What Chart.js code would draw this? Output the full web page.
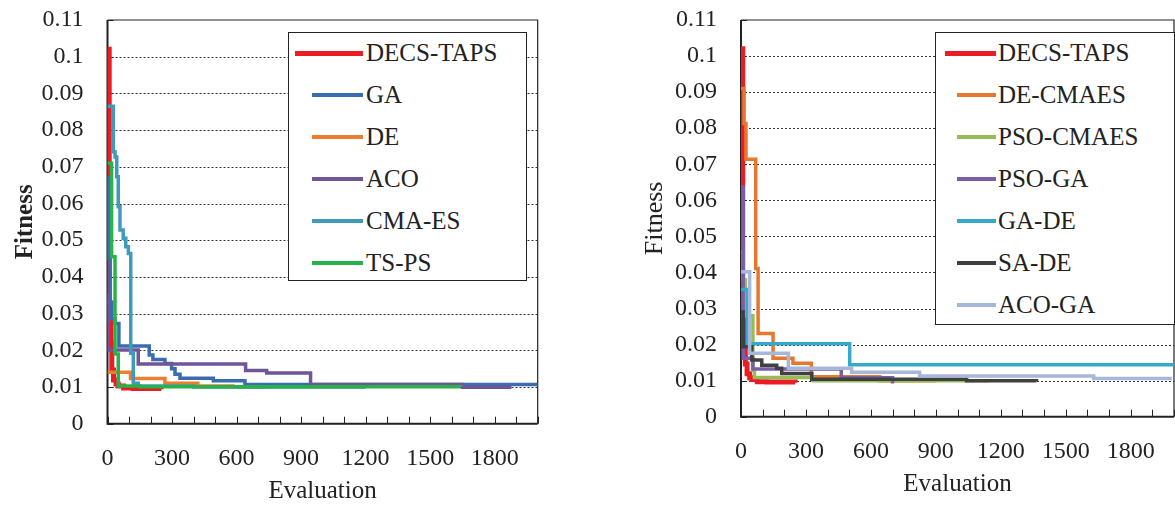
<!DOCTYPE html>
<html>
<head>
<meta charset="utf-8">
<script src="https://cdn.jsdelivr.net/npm/chart.js@4.4.1/dist/chart.umd.min.js"></script>
<style>
  body { margin: 0; background: #fff; }
  #wrap { position: relative; width: 1175px; height: 506px; overflow: hidden; font-family: 'Liberation Serif', 'Times New Roman', serif; color: #222; }
  canvas { position: absolute; top: 0; }
  .legend { position: absolute; border: 1.5px solid #222; background: #fff; box-sizing: border-box; }
  .legend .key { position: absolute; }
  .legend .name { position: absolute; font-size: 25px; line-height: 28px; white-space: nowrap; }
</style>
</head>
<body>
<div id="wrap">
  <canvas id="leftChart" width="590" height="506" style="left:0"></canvas>
  <canvas id="rightChart" width="585" height="506" style="left:590px"></canvas>
  <div id="leftLegend" class="legend" style="left:288px; top:32px; width:239px; height:249px"></div>
  <div id="rightLegend" class="legend" style="left:935px; top:32px; width:240px; height:293px"></div>
</div>
<script>
// Best fitness so far, as [evaluation, fitness] pairs: the fitness drops to the value at that evaluation
const decsTaps = [[0, 0.102], [8, 0.033], [12, 0.028], [16, 0.022], [20, 0.0146], [28, 0.0119], [40, 0.0108], [50, 0.0103], [75, 0.0097], [120, 0.0096], [250, 0.0094]];

// left panel: single algorithms
const gaRun = [[0, 0.067], [5, 0.045], [12, 0.033], [20, 0.0285], [35, 0.0273], [53, 0.0212], [194, 0.0187], [211, 0.0175], [267, 0.0164], [298, 0.015], [314, 0.0135], [337, 0.0124], [492, 0.0117], [639, 0.0107], [2000, 0.0107]];
const deRun = [[0, 0.014], [107, 0.0123], [267, 0.011], [420, 0.0103], [583, 0.0100], [760, 0.0099]];
const acoRun = [[0, 0.035], [3, 0.0201], [143, 0.0163], [642, 0.0145], [740, 0.0138], [944, 0.0107], [1650, 0.0099], [1878, 0.0099]];
const cmaesRun = [[0, 0.0865], [27, 0.0741], [35, 0.0727], [43, 0.0673], [50, 0.0591], [58, 0.0528], [73, 0.0505], [85, 0.0482], [97, 0.0464], [108, 0.0192], [120, 0.011], [143, 0.0103], [400, 0.0100], [1200, 0.0100]];
const tspsRun = [[0, 0.071], [19, 0.0455], [35, 0.019], [50, 0.0103], [150, 0.0101], [1640, 0.0100]];

// right panel: hybrid algorithms
const deCmaesRun = [[0, 0.091], [14, 0.0813], [23, 0.0714], [68, 0.0411], [79, 0.0231], [148, 0.0162], [240, 0.0148], [325, 0.0111], [641, 0.0100], [900, 0.0099]];
const psoCmaesRun = [[0, 0.0457], [10, 0.038], [20, 0.028], [55, 0.0129], [62, 0.0109], [333, 0.0100], [1143, 0.0098]];
const psoGaRun = [[0, 0.0637], [10, 0.0162], [55, 0.0132], [463, 0.0108], [700, 0.0092]];
const gaDeRun = [[0, 0.0353], [30, 0.0202], [502, 0.0144], [2000, 0.0144]];
const saDeRun = [[0, 0.029], [10, 0.0194], [50, 0.0157], [96, 0.0143], [165, 0.0134], [188, 0.012], [327, 0.0104], [1042, 0.0100], [1365, 0.0098]];
const acoGaRun = [[0, 0.0402], [40, 0.0176], [219, 0.0134], [511, 0.0123], [825, 0.0113], [1629, 0.0106], [1990, 0.0106]];

const leftNames = ['DECS-TAPS', 'GA', 'DE', 'ACO', 'CMA-ES', 'TS-PS'];
const leftColors = ['#ed1c24', '#3b6cb0', '#ed7d31', '#6f5698', '#3f9bb9', '#27b24b'];
const leftRuns = [decsTaps, gaRun, deRun, acoRun, cmaesRun, tspsRun];

const rightNames = ['DECS-TAPS', 'DE-CMAES', 'PSO-CMAES', 'PSO-GA', 'GA-DE', 'SA-DE', 'ACO-GA'];
const rightColors = ['#ed1c24', '#e8772e', '#93bd55', '#7c5ea6', '#33aac9', '#404040', '#a6b7d9'];
const rightRuns = [decsTaps, deCmaesRun, psoCmaesRun, psoGaRun, gaDeRun, saDeRun, acoGaRun];

const evalLabels = [0, 300, 600, 900, 1200, 1500, 1800];
const evalMax = 2000;
const fitnessMax = 0.11;

const FONT = "'Liberation Serif', 'Times New Roman', serif";

// frame, dotted gridlines and inward tick marks
const framePlugin = {
  id: 'frame',
  beforeDatasetsDraw(chart) {
    const { ctx, chartArea: a, scales: { x, y } } = chart;
    ctx.save();
    ctx.strokeStyle = '#333';
    ctx.lineWidth = 1;
    ctx.setLineDash([2, 2]);
    ctx.beginPath();
    y.ticks.forEach(t => {
      if (t.value <= 0 || t.value >= fitnessMax - 1e-9) return;
      const py = Math.round(y.getPixelForValue(t.value)) + 0.5;
      ctx.moveTo(a.left, py);
      ctx.lineTo(a.right, py);
    });
    ctx.stroke();
    ctx.setLineDash([]);
    ctx.strokeStyle = '#222';
    ctx.beginPath();
    x.ticks.forEach(t => {
      const px = Math.round(x.getPixelForValue(t.value)) + 0.5;
      ctx.moveTo(px, a.bottom);
      ctx.lineTo(px, a.bottom - 7);
    });
    y.ticks.forEach(t => {
      const py = Math.round(y.getPixelForValue(t.value)) + 0.5;
      ctx.moveTo(a.left, py);
      ctx.lineTo(a.left + 6, py);
    });
    ctx.stroke();
    ctx.lineWidth = 1.2;
    ctx.beginPath();
    ctx.moveTo(a.left, a.top);
    ctx.lineTo(a.right, a.top);
    ctx.lineTo(a.right, a.bottom);
    ctx.stroke();
    ctx.lineWidth = 2;
    ctx.beginPath();
    ctx.moveTo(a.left, a.top);
    ctx.lineTo(a.left, a.bottom);
    ctx.lineTo(a.right, a.bottom);
    ctx.stroke();
    ctx.restore();
  }
};

function makeChart(id, names, colors, runs, box) {
  // later series sit on top of earlier ones
  const datasets = runs.map((run, i) => ({
    label: names[i],
    data: run.map(p => ({ x: p[0], y: p[1] })),
    borderColor: colors[i],
    borderWidth: i === 0 ? 5 : 3.5,
    stepped: 'before',
    pointRadius: 0,
    fill: false,
    order: runs.length - i
  }));

  return new Chart(document.getElementById(id), {
    type: 'line',
    data: { datasets },
    plugins: [framePlugin],
    options: {
      responsive: false,
      animation: false,
      events: [],
      layout: { padding: { top: box.top, right: box.right, left: 0, bottom: 0 } },
      plugins: { legend: { display: false }, tooltip: { enabled: false } },
      scales: {
        x: {
          type: 'linear',
          min: 0,
          max: evalMax,
          grid: { display: false, drawTicks: false },
          border: { display: false },
          afterFit: s => {
            s.height = box.xHeight;
            s.paddingLeft = 0;
            s.paddingRight = 0;
          },
          ticks: {
            stepSize: 100,
            autoSkip: false,
            maxRotation: 0,
            padding: 21,
            color: '#222',
            font: { family: FONT, size: 24 },
            callback: v => evalLabels.includes(v) ? String(v) : ''
          },
          title: {
            display: true,
            text: 'Evaluation',
            color: '#222',
            font: { family: FONT, size: 25 },
            padding: { top: 0, bottom: box.xTitlePad }
          }
        },
        y: {
          min: 0,
          max: fitnessMax,
          grid: { display: false, drawTicks: false },
          border: { display: false },
          afterFit: s => {
            s.width = box.yWidth;
            s.paddingTop = 0;
            s.paddingBottom = 0;
          },
          ticks: {
            stepSize: 0.01,
            padding: 24,
            color: '#222',
            font: { family: FONT, size: 24 },
            callback: v => String(Number(v.toFixed(2)))
          },
          title: {
            display: true,
            text: 'Fitness',
            color: '#222',
            font: { family: FONT, size: box.yTitleSize, weight: box.titleWeight },
            padding: { top: box.yTitlePad, bottom: 0 }
          }
        }
      }
    }
  });
}

function makeLegend(id, names, colors, spec) {
  const el = document.getElementById(id);
  names.forEach((name, i) => {
    const cy = spec.firstRow + i * 42;
    const key = document.createElement('div');
    key.className = 'key';
    const thick = i === 0 ? 5 : 4;
    const keyLeft = i === 0 ? spec.redKeyLeft : spec.keyLeft;
    key.style.left = keyLeft + 'px';
    key.style.width = (spec.keyRight - keyLeft) + 'px';
    key.style.top = (cy - thick / 2) + 'px';
    key.style.height = thick + 'px';
    key.style.background = colors[i];
    el.appendChild(key);
    const label = document.createElement('div');
    label.className = 'name';
    label.textContent = name;
    label.style.left = spec.textLeft + 'px';
    label.style.top = (cy - 14) + 'px';
    el.appendChild(label);
  });
}

makeChart('leftChart', leftNames, leftColors, leftRuns,
  { top: 20, right: 52.3, xHeight: 82.3, yWidth: 107.5, xTitlePad: 0, yTitlePad: 10.6, yTitleSize: 25, titleWeight: 'bold' });
makeChart('rightChart', rightNames, rightColors, rightRuns,
  { top: 20, right: 1, xHeight: 89.3, yWidth: 151, xTitlePad: 6.6, yTitlePad: 49.6, yTitleSize: 26, titleWeight: 'normal' });

// legend rows, coordinates relative to each legend box
makeLegend('leftLegend', leftNames, leftColors, { firstRow: 20, keyLeft: 23, redKeyLeft: 6, keyRight: 74, textLeft: 77 });
makeLegend('rightLegend', rightNames, rightColors, { firstRow: 20, keyLeft: 21, redKeyLeft: 9, keyRight: 60, textLeft: 62 });
</script>
</body>
</html>
